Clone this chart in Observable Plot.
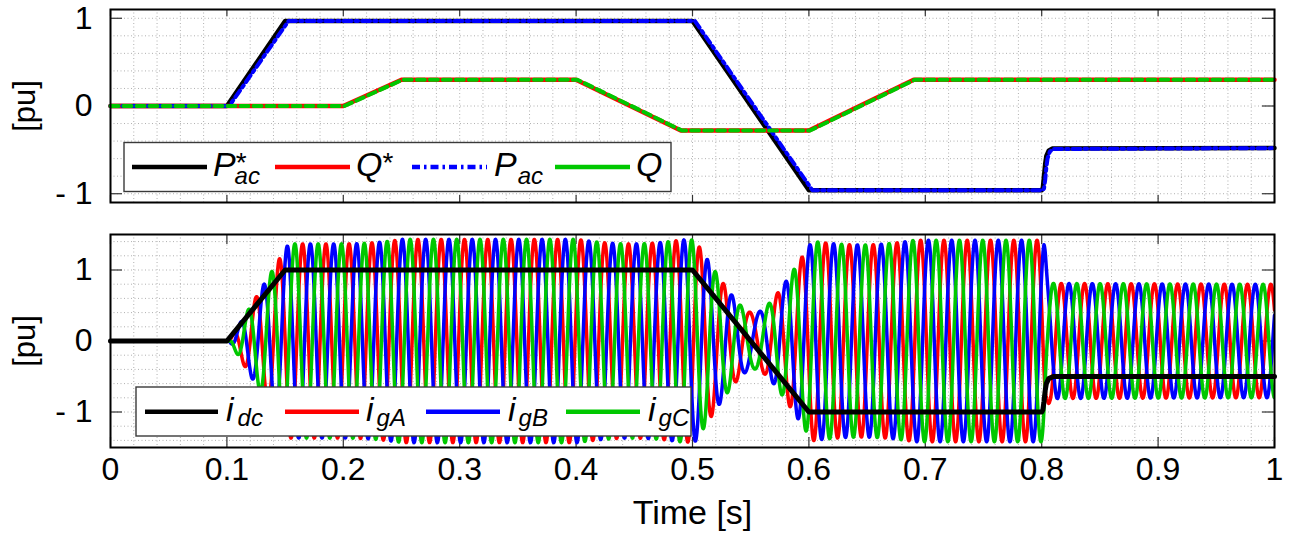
<!DOCTYPE html>
<html>
<head>
<meta charset="utf-8">
<script src="https://cdn.jsdelivr.net/npm/d3@7"></script>
<script src="https://cdn.jsdelivr.net/npm/@observablehq/plot@0.6"></script>
<style>
html, body { margin: 0; padding: 0; background: #fff; }
#wrap { position: relative; width: 1299px; height: 535px; overflow: hidden; background: #fff; }
#wrap svg { display: block; }
</style>
</head>
<body>
<div id="wrap"></div>
<script>
// ---------------- data ----------------
// Top panel: active / reactive power references and measurements [pu] vs time [s]
const pRefT  = [0, 0.1, 0.15, 0.5, 0.6, 0.8, 0.801, 0.802, 0.803, 0.804, 0.806, 0.809, 1];
const pRefV  = [0, 0, 0.97, 0.97, -0.96, -0.96, -0.93, -0.80, -0.66, -0.57, -0.51, -0.485, -0.48];
const qRefT  = [0, 0.2, 0.25, 0.4, 0.49, 0.6, 0.69, 1];
const qRefV  = [0, 0, 0.3, 0.3, -0.28, -0.28, 0.3, 0.3];
const pMeasT = [0, 0.102, 0.153, 0.502, 0.603, 0.801, 0.802, 0.803, 0.804, 0.805, 0.807, 0.81, 1];
const pMeasV = [0, 0, 0.97, 0.97, -0.96, -0.96, -0.94, -0.84, -0.70, -0.60, -0.52, -0.49, -0.48];
const qMeasT = [0, 0.201, 0.251, 0.401, 0.491, 0.601, 0.691, 1];
const qMeasV = [0, 0, 0.3, 0.3, -0.28, -0.28, 0.3, 0.3];
// Bottom panel: dc current [pu]
const idcT = [0, 0.1, 0.15, 0.5, 0.6, 0.8, 0.801, 0.802, 0.803, 0.804, 0.806, 0.81, 1];
const idcV = [0, 0, 1, 1, -1, -1, -0.97, -0.85, -0.70, -0.60, -0.53, -0.50, -0.50];
// Grid currents: 50 Hz three-phase, peak = 1.41 x apparent power, phase of A read from the peaks
const gridFreq = 50;          // Hz (one period = 0.02 s between red peaks)
const peakFactor = 1.41;      // peak current / apparent power
const phaseA = -1.59;         // rad
const phaseNames  = ["igA", "igB", "igC"];
const phaseShifts = [0, -2 * Math.PI / 3, 2 * Math.PI / 3];
const phaseColors = ["#ff0000", "#0000ff", "#00c800"];
// Axis ticks
const xTicks = [0, 0.1, 0.2, 0.3, 0.4, 0.5, 0.6, 0.7, 0.8, 0.9, 1];
const yTicks = [-1, 0, 1];

// ---------------- layout ----------------
const W = 1299, ml = 110, mr = 25;
const frameW = W - ml - mr;
const font = "Liberation Sans, Arial, sans-serif";
const grey = "#b0b0b0";

const series = (T, V) => T.map((t, i) => ({t, v: V[i]}));
const pRef = series(pRefT, pRefV), qRef = series(qRefT, qRefV);
const pMeas = series(pMeasT, pMeasV), qMeas = series(qMeasT, qMeasV);
const idc = series(idcT, idcV);

const pOf = d3.scaleLinear().domain(pMeasT).range(pMeasV).clamp(true);
const qOf = d3.scaleLinear().domain(qMeasT).range(qMeasV).clamp(true);
const sampleT = d3.range(0, 1.00001, 0.0002);
const currents = phaseNames.map((name, k) => sampleT.map(t => {
  const a = 2 * Math.PI * gridFreq * t + phaseA + phaseShifts[k];
  return {t, v: peakFactor * (pOf(t) * Math.cos(a) - qOf(t) * Math.sin(a))};
}));

const xGrid = d3.range(0, 1.0001, 0.02);
const yGridTop = d3.range(-1, 1.0001, 0.2);
const yGridBot = d3.range(-1.4, 1.4001, 0.2);
const fmtY = d => d < 0 ? "- " + Math.abs(d) : String(d);
const fmtX = d => (d === 0 || d === 1) ? String(d) : d.toFixed(1);

function decor(frameH, yGrid, xTickLen, showX) {
  const m = [
    Plot.ruleX(xGrid, {x: d => d, stroke: grey, strokeWidth: 1, strokeDasharray: "1,2.5"}),
    Plot.ruleY(yGrid, {y: d => d, stroke: grey, strokeWidth: 1, strokeDasharray: "1,2.5"}),
    Plot.tickX(xTicks, {x: d => d, insetTop: frameH - xTickLen, stroke: "#333", strokeWidth: 1.2}),
    Plot.tickX(xTicks, {x: d => d, insetBottom: frameH - xTickLen, stroke: "#333", strokeWidth: 1.2}),
    Plot.tickY(yTicks, {y: d => d, insetRight: frameW - 12, stroke: "#333", strokeWidth: 1.2}),
    Plot.tickY(yTicks, {y: d => d, insetLeft: frameW - 12, stroke: "#333", strokeWidth: 1.2}),
    Plot.axisY(yTicks, {tickSize: 0, tickPadding: 18, tickFormat: fmtY, fontSize: 32, label: null}),
    Plot.text(["[pu]"], {text: d => d, frameAnchor: "left", textAnchor: "middle", lineAnchor: "middle",
                         dx: -85, rotate: -90, fontSize: 31})
  ];
  if (showX) {
    m.push(Plot.axisX(xTicks, {tickSize: 0, tickPadding: 10, tickFormat: fmtX, fontSize: 32, label: null}));
    m.push(Plot.text(["Time [s]"], {text: d => d, frameAnchor: "bottom", lineAnchor: "bottom", dy: 76, fontSize: 34}));
  }
  return m;
}

// legend: each label = [x, main, sup, sub]
function addLegend(svg, box, items) {
  const g = d3.select(svg).append("g").attr("font-family", font).attr("fill", "black")
    .attr("text-anchor", "start");
  g.append("rect").attr("x", box.x).attr("y", box.y).attr("width", box.w).attr("height", box.h)
    .attr("fill", "white").attr("stroke", "#3a3a3a").attr("stroke-width", 1.4);
  for (const it of items) {
    g.append("line").attr("x1", it.x1).attr("x2", it.x2).attr("y1", box.ly).attr("y2", box.ly)
      .attr("stroke", it.color).attr("stroke-width", 4.5).attr("stroke-dasharray", it.dash || null);
    const t = g.append("text").attr("x", it.tx).attr("y", box.base).attr("font-size", 34)
      .attr("font-style", "italic").attr("text-anchor", "start").text(it.main);
    if (it.sup) {
      t.append("tspan").attr("font-size", 28).attr("font-style", "normal").attr("dy", -4).text(it.sup);
      if (it.sub) t.append("tspan").attr("font-size", 24).attr("dx", -12).attr("dy", 12).text(it.sub);
    } else if (it.sub) {
      t.append("tspan").attr("font-size", 24).attr("dx", it.subDx || 0).attr("dy", box.subDy).text(it.sub);
    }
  }
}

// ---------------- top panel ----------------
const topH = 210, topMT = 9, topMB = 8, topFH = topH - topMT - topMB;
const topPlot = Plot.plot({
  width: W, height: topH, marginLeft: ml, marginRight: mr, marginTop: topMT, marginBottom: topMB,
  style: {fontFamily: font, fontSize: "32px", background: "white", overflow: "visible", color: "black"},
  x: {domain: [0, 1], axis: null},
  y: {domain: [-1.1, 1.1], axis: null},
  marks: [
    ...decor(topFH, yGridTop, 7, false),
    Plot.line(pRef, {x: "t", y: "v", stroke: "black", strokeWidth: 4.5}),
    Plot.line(qRef, {x: "t", y: "v", stroke: "#ff0000", strokeWidth: 4.5}),
    Plot.line(pMeas, {x: "t", y: "v", stroke: "#0000ff", strokeWidth: 4, strokeDasharray: "8,4,2.5,4"}),
    Plot.line(qMeas, {x: "t", y: "v", stroke: "#00c800", strokeWidth: 4, strokeDasharray: "8,5"}),
    Plot.frame({stroke: "black", strokeWidth: 2})
  ]
});
addLegend(topPlot, {x: 124, y: 142.5, w: 547, h: 49, ly: 167, base: 176, subDy: 8}, [
  {x1: 132, x2: 207, color: "black", tx: 213, main: "P", sup: "*", sub: "ac"},
  {x1: 275, x2: 350, color: "#ff0000", tx: 356, main: "Q", sup: "*"},
  {x1: 412, x2: 487, color: "#0000ff", dash: "8,4,2.5,4", tx: 494, main: "P", sub: "ac", subDx: 1},
  {x1: 555, x2: 630, color: "#00c800", tx: 636, main: "Q"}
]);

// ---------------- bottom panel ----------------
const botH = 325, botMT = 24, botMB = 88, botFH = botH - botMT - botMB;
const botPlot = Plot.plot({
  width: W, height: botH, marginLeft: ml, marginRight: mr, marginTop: botMT, marginBottom: botMB,
  style: {fontFamily: font, fontSize: "32px", background: "white", overflow: "visible", color: "black"},
  x: {domain: [0, 1], axis: null},
  y: {domain: [-1.5, 1.5], axis: null},
  marks: [
    ...decor(botFH, yGridBot, 10, true),
    ...currents.map((c, k) => Plot.line(c, {x: "t", y: "v", stroke: phaseColors[k], strokeWidth: 3.5, clip: true})),
    Plot.line(idc, {x: "t", y: "v", stroke: "black", strokeWidth: 5}),
    Plot.frame({stroke: "black", strokeWidth: 2})
  ]
});
addLegend(botPlot, {x: 136, y: 177, w: 555, h: 49, ly: 201.7, base: 211, subDy: 5}, [
  {x1: 145, x2: 218, color: "black", tx: 226, main: "i", sub: "dc", subDx: 4},
  {x1: 285, x2: 359, color: "#ff0000", tx: 366, main: "i", sub: "gA", subDx: 3},
  {x1: 426, x2: 500, color: "#0000ff", tx: 508, main: "i", sub: "gB", subDx: 3},
  {x1: 566, x2: 640, color: "#00c800", tx: 648, main: "i", sub: "gC", subDx: 3}
]);

const wrap = document.getElementById("wrap");
wrap.appendChild(topPlot);
wrap.appendChild(botPlot);
</script>
</body>
</html>
